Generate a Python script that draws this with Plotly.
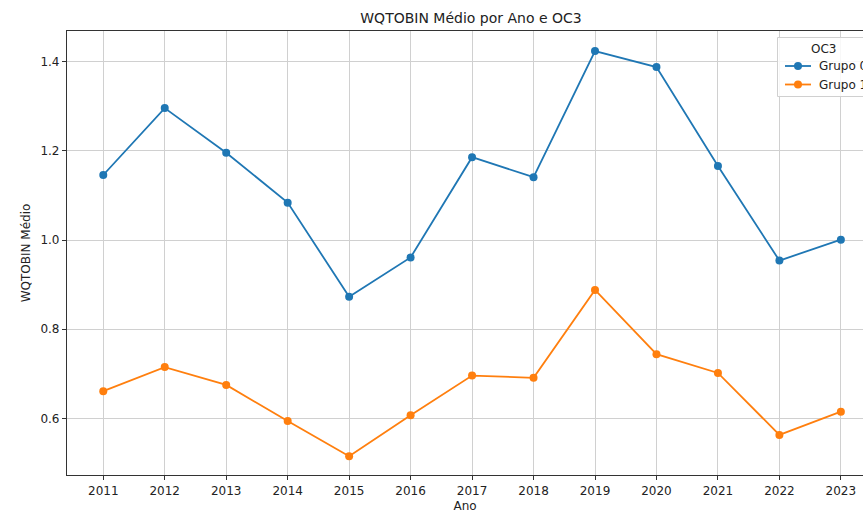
import plotly.graph_objects as go

anos = [2011, 2012, 2013, 2014, 2015, 2016, 2017, 2018, 2019, 2020, 2021, 2022, 2023]
grupo0 = [1.146, 1.296, 1.196, 1.084, 0.873, 0.961, 1.186, 1.141, 1.424, 1.388, 1.166, 0.954, 1.001]
grupo1 = [0.661, 0.715, 0.675, 0.594, 0.515, 0.607, 0.696, 0.691, 0.888, 0.744, 0.702, 0.563, 0.615]
nomes = ["Grupo 0", "Grupo 1"]
cores = ["#1f77b4", "#ff7f0e"]
legenda_titulo = "OC3"

W, H = 863, 514
L, R, T, B = 67, 0, 31, 39
PW, PH = W - L - R, H - T - B


def px(x):
    return (x - L) / PW


def py(y):
    return (H - B - y) / PH


fig = go.Figure()
for nome, vals, cor in zip(nomes, [grupo0, grupo1], cores):
    fig.add_trace(go.Scatter(
        x=anos, y=vals, mode="lines+markers", name=nome, showlegend=False,
        line=dict(color=cor, width=1.8),
        marker=dict(color=cor, size=8),
    ))

# legend box (matplotlib-style, runs off the right edge like the reference)
shapes = [dict(type="rect", xref="paper", yref="paper", layer="above",
               x0=px(777.5), x1=px(920), y0=py(37.5), y1=py(96.5),
               fillcolor="rgba(255,255,255,0.85)", line=dict(color="#d0d0d0", width=1))]
annotations = [dict(text=legenda_titulo, xref="paper", yref="paper", x=px(823), y=py(49),
                    xanchor="center", yanchor="middle", showarrow=False,
                    font=dict(size=12, color="#222"))]
for i, (nome, cor) in enumerate(zip(nomes, cores)):
    yy = 66 + i * 18.5
    shapes.append(dict(type="line", xref="paper", yref="paper", layer="above",
                       x0=px(785), x1=px(811), y0=py(yy), y1=py(yy),
                       line=dict(color=cor, width=1.8)))
    shapes.append(dict(type="circle", xref="paper", yref="paper", layer="above",
                       xsizemode="pixel", ysizemode="pixel",
                       xanchor=px(798), yanchor=py(yy), x0=-4, x1=4, y0=-4, y1=4,
                       fillcolor=cor, line=dict(color=cor, width=0)))
    annotations.append(dict(text=nome, xref="paper", yref="paper", x=px(817), y=py(yy),
                            xanchor="left", yanchor="middle", showarrow=False,
                            font=dict(size=12, color="#222")))

font = "DejaVu Sans, sans-serif"
fig.update_layout(
    width=W, height=H,
    margin=dict(l=L, r=R, t=T, b=B, autoexpand=False),
    paper_bgcolor="white", plot_bgcolor="white",
    font=dict(family=font, size=12, color="#222"),
    showlegend=False,
    hovermode=False,
    title=dict(text="WQTOBIN Médio por Ano e OC3", x=471 / W, xref="container",
               xanchor="center", y=1 - 18 / H, yref="container", yanchor="middle",
               font=dict(size=14, color="#222")),
    shapes=shapes,
    annotations=annotations,
    xaxis=dict(range=[2010.41, 2023.36], tickmode="array", tickvals=anos,
               ticktext=[str(a) for a in anos], automargin=False,
               showgrid=True, gridcolor="#d0d0d0", gridwidth=1,
               showline=True, linecolor="#333", linewidth=1.2, mirror=True,
               ticks="outside", ticklen=4, tickcolor="#333",
               zeroline=False,
               title=dict(text="Ano", standoff=5, font=dict(size=12))),
    yaxis=dict(range=[0.473, 1.469], tickvals=[0.6, 0.8, 1.0, 1.2, 1.4],
               ticktext=["0.6", "0.8", "1.0", "1.2", "1.4"], automargin=False,
               showgrid=True, gridcolor="#d0d0d0", gridwidth=1,
               showline=True, linecolor="#333", linewidth=1.2, mirror=False,
               ticks="outside", ticklen=4, tickcolor="#333",
               zeroline=False,
               title=dict(text="WQTOBIN Médio", standoff=7, font=dict(size=12))),
)

fig.write_html(
    "out.html",
    config={"displayModeBar": False},
    post_script="document.body.style.margin='0';document.body.style.overflow='hidden';",
)
